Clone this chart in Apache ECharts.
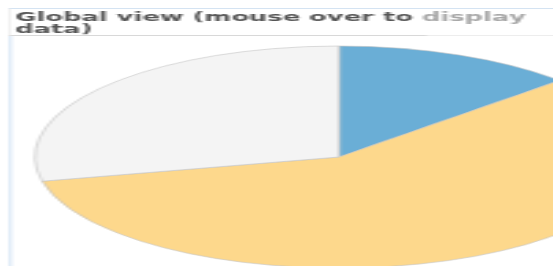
<!DOCTYPE html>
<html>
<head>
<meta charset="utf-8">
<script src="https://cdn.jsdelivr.net/npm/echarts@6/dist/echarts.min.js"></script>
<style>
  html, body { margin: 0; padding: 0; background: #fff; overflow: hidden; }
  /* the reference is stretched sideways, so the pie is an ellipse */
  #main { width: 202px; height: 266px; transform: scaleX(2.74); transform-origin: 0 0; }
</style>
</head>
<body>
<div id="main"></div>
<script>
const sliceNames = ["Part A", "Part B", "Part C"];
const sliceValues = [12.9, 58.6, 28.5];
const sliceColors = ["#6aaed6", "#fdd88c", "#f4f4f4"];

const K = 2.74; // horizontal stretch of the whole page
const chart = echarts.init(document.getElementById("main"), null, { renderer: "canvas" });

const option = {
  animation: false,
  backgroundColor: "#fff",
  tooltip: { show: false },
  graphic: [
    // frame round the title
    { type: "line", shape: { x1: 9 / K, y1: 8.5, x2: 202, y2: 8.5 }, style: { stroke: "#d4e3f2", lineWidth: 1 } },
    { type: "line", shape: { x1: 9.5 / K, y1: 8.5, x2: 9.5 / K, y2: 35 }, style: { stroke: "#dcdcdc", lineWidth: 0.4 } },
    { type: "line", shape: { x1: 9 / K, y1: 35.5, x2: 427 / K, y2: 35.5 }, style: { stroke: "#d8d8d8", lineWidth: 1 } },
    { type: "line", shape: { x1: 427 / K, y1: 35.5, x2: 202, y2: 35.5 }, style: { stroke: "#ededed", lineWidth: 1 } },
    { type: "line", shape: { x1: 10.5 / K, y1: 36, x2: 10.5 / K, y2: 266 }, style: { stroke: "#c6dcf2", lineWidth: 0.75 } },
    {
      type: "text",
      x: 15 / K,
      y: 11.5,
      scaleX: 0.785,
      style: {
        text: "{a|Global view (mouse over to }{b|display}\n{a|data)}",
        rich: {
          a: { font: "bold 12px 'DejaVu Sans'", fill: "#555555", lineHeight: 12 },
          b: { font: "bold 12px 'DejaVu Sans'", fill: "#a8a8a8", lineHeight: 12 }
        }
      }
    }
  ],
  series: [
    {
      type: "pie",
      center: [339 / K, 157],
      radius: 111,
      startAngle: 90,
      clockwise: true,
      label: { show: false },
      labelLine: { show: false },
      emphasis: { disabled: true },
      itemStyle: { borderColor: "#c4c4c4", borderWidth: 0.6 },
      data: sliceNames.map((n, i) => ({
        name: n,
        value: sliceValues[i],
        itemStyle: { color: sliceColors[i] }
      }))
    }
  ]
};

chart.setOption(option);
</script>
</body>
</html>
